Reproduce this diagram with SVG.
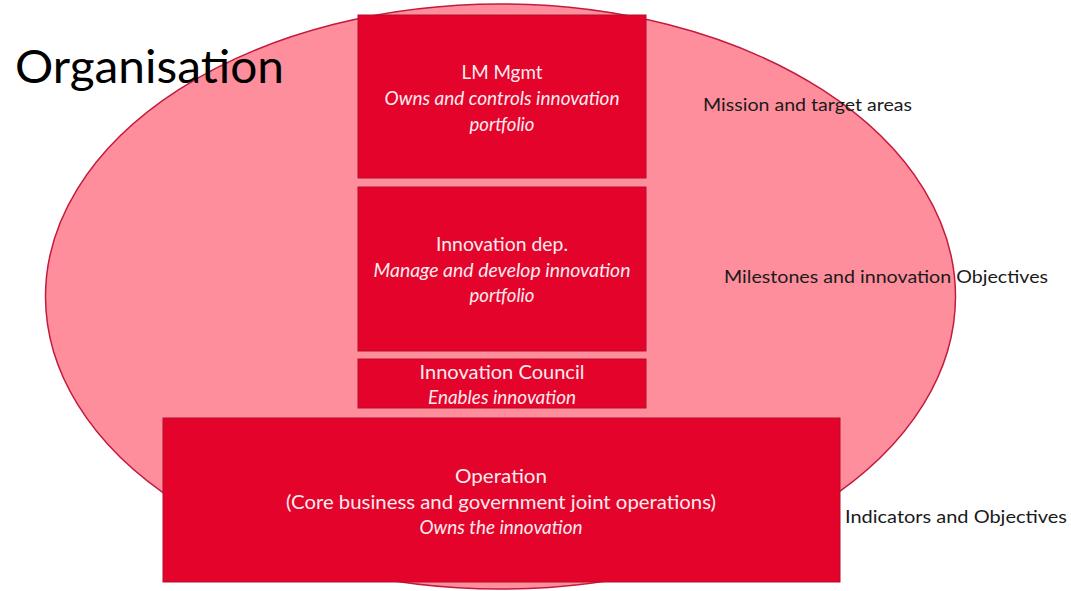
<svg xmlns="http://www.w3.org/2000/svg" width="1071" height="591" viewBox="0 0 1071 591">
<style>
.box{fill:#E3032B;stroke:#B50F2C;stroke-width:1}
.t{font-family:Lato,"Open Sans","Liberation Sans",sans-serif;font-size:19px;fill:#FCEBEE;text-anchor:middle}
.i{font-style:italic}
.lab{font-family:Lato,"Open Sans","Liberation Sans",sans-serif;font-size:18px;fill:#1a1a1a}
</style>
<rect width="1071" height="591" fill="#ffffff"/>
<g id="organisation">
<ellipse cx="500.5" cy="296.5" rx="455" ry="292.5" fill="#FF8E9C" stroke="#C41A3E" stroke-width="1.5"/>
<text x="15" y="83" font-family="Lato,'Open Sans','Liberation Sans',sans-serif" font-size="47" fill="#000" textLength="269" lengthAdjust="spacingAndGlyphs">Organisation</text>
</g>
<g id="connectors"></g>
<g id="lm-mgmt">
<rect class="box" x="358" y="15" width="288" height="163"/>
<text class="t" x="502" y="79" textLength="81" lengthAdjust="spacingAndGlyphs">LM Mgmt</text>
<text class="t i" x="502" y="105" textLength="235" lengthAdjust="spacingAndGlyphs">Owns and controls innovation</text>
<text class="t i" x="502" y="131" textLength="65" lengthAdjust="spacingAndGlyphs">portfolio</text>
</g>
<g id="innovation-dep">
<rect class="box" x="358" y="187" width="288" height="164"/>
<text class="t" x="502" y="251" textLength="132" lengthAdjust="spacingAndGlyphs">Innovation dep.</text>
<text class="t i" x="502" y="277" textLength="257" lengthAdjust="spacingAndGlyphs">Manage and develop innovation</text>
<text class="t i" x="502" y="302" textLength="65" lengthAdjust="spacingAndGlyphs">portfolio</text>
</g>
<g id="innovation-council">
<rect class="box" x="358" y="359" width="288" height="49"/>
<text class="t" x="502" y="379" textLength="165" lengthAdjust="spacingAndGlyphs">Innovation Council</text>
<text class="t i" x="502" y="404" textLength="148" lengthAdjust="spacingAndGlyphs">Enables innovation</text>
</g>
<g id="operation">
<rect class="box" x="163" y="418" width="677" height="164"/>
<text class="t" x="501" y="483" textLength="92" lengthAdjust="spacingAndGlyphs">Operation</text>
<text class="t" x="501" y="509" textLength="430" lengthAdjust="spacingAndGlyphs">(Core business and government joint operations)</text>
<text class="t i" x="501" y="534" textLength="163" lengthAdjust="spacingAndGlyphs">Owns the innovation</text>
</g>
<g id="labels">
<text class="lab" x="703" y="111" textLength="209" lengthAdjust="spacingAndGlyphs">Mission and target areas</text>
<text class="lab" x="724" y="283" textLength="324" lengthAdjust="spacingAndGlyphs">Milestones and innovation Objectives</text>
<text class="lab" x="845" y="523" textLength="222" lengthAdjust="spacingAndGlyphs">Indicators and Objectives</text>
</g>
</svg>
